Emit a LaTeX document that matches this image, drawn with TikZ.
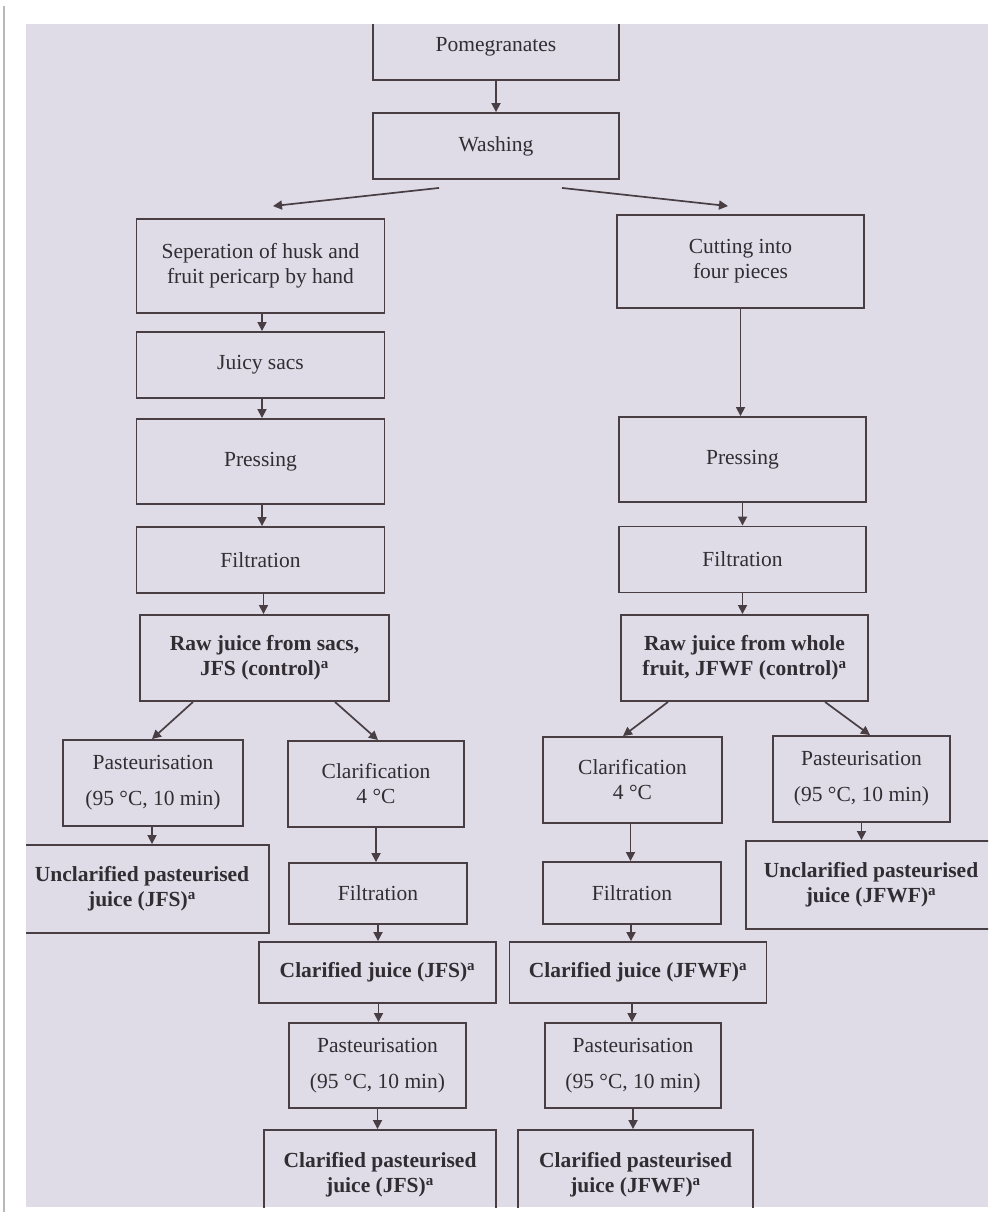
\documentclass[tikz,border=0pt]{standalone}
\usepackage{fontspec}
\setmainfont{Liberation Serif}
\usetikzlibrary{arrows.meta}
\definecolor{panel}{RGB}{223,220,231}
\definecolor{ink}{RGB}{72,62,68}
\definecolor{txt}{RGB}{50,45,50}
\tikzset{
  box/.style={draw=ink, line width=1.9pt, rectangle, align=center, text=txt,
    font=\fontsize{21.5}{25}\selectfont, inner sep=2pt},
  bbox/.style={box, font=\fontsize{21.5}{25}\selectfont\bfseries},
  arr/.style={draw=ink, line width=1.7pt, -{Triangle[length=9pt,width=9pt]}},
}
\newcommand{\supa}{\textsuperscript{a}}
\begin{document}
\begin{tikzpicture}[x=1pt,y=-1pt]
\useasboundingbox (0,0) rectangle (996,1218);
\fill[white] (0,0) rectangle (996,1218);
\draw[gray!55, line width=1.5pt] (4,6) -- (4,1212);
\fill[panel] (26,24) rectangle (988,1207);
\begin{scope}
\clip (26,24) rectangle (988,1207);
% top
\node[box, minimum width=246pt, minimum height=66pt] (pom) at (496,47) {Pomegranates};
\node[box, minimum width=246pt, minimum height=66pt] (wash) at (496,146) {Washing};
% left column
\node[box, minimum width=248pt, minimum height=94pt] (sep) at (260.5,266) {Seperation of husk and\\fruit pericarp by hand};
\node[box, minimum width=248pt, minimum height=66pt] (juicy) at (260.5,365) {Juicy sacs};
\node[box, minimum width=248pt, minimum height=85pt] (pressL) at (260.5,461.5) {Pressing};
\node[box, minimum width=248pt, minimum height=66pt] (filtL) at (260.5,560) {Filtration};
\node[bbox, minimum width=249pt, minimum height=86pt] (rawL) at (264.5,658) {Raw juice from sacs,\\JFS (control)\supa};
% right column
\node[box, minimum width=247pt, minimum height=93pt] (cut) at (740.5,261.5) {Cutting into\\four pieces};
\node[box, minimum width=247pt, minimum height=85pt] (pressR) at (742.5,459.5) {Pressing};
\node[box, minimum width=247pt, minimum height=66pt] (filtR) at (742.5,559.5) {Filtration};
\node[bbox, minimum width=247pt, minimum height=86pt] (rawR) at (744.5,658) {Raw juice from whole\\fruit, JFWF (control)\supa};
% JFS branches
\node[box, minimum width=180pt, minimum height=86pt] (pastL) at (153,783) {Pasteurisation\\[11pt](95 °C, 10 min)};
\node[bbox, minimum width=254pt, minimum height=88pt] (unclL) at (142,889) {Unclarified pasteurised\\juice (JFS)\supa};
\node[box, minimum width=176pt, minimum height=86pt] (clarL) at (376,784) {Clarification\\4 °C};
\node[box, minimum width=178pt, minimum height=61pt] (filtLM) at (378,893.5) {Filtration};
\node[bbox, minimum width=237pt, minimum height=61pt] (clarJFS) at (377.5,972.5) {Clarified juice (JFS)\supa};
\node[box, minimum width=177pt, minimum height=85pt] (pastLB) at (377.5,1065.5) {Pasteurisation\\[11pt](95 °C, 10 min)};
\node[bbox, minimum width=232pt, minimum height=90pt] (cpJFS) at (380,1175) {Clarified pasteurised\\juice (JFS)\supa};
% JFWF branches
\node[box, minimum width=179pt, minimum height=86pt] (clarR) at (632.5,780) {Clarification\\4 °C};
\node[box, minimum width=177pt, minimum height=86pt] (pastR) at (861.5,779) {Pasteurisation\\[11pt](95 °C, 10 min)};
\node[bbox, minimum width=250pt, minimum height=88pt] (unclR) at (871,885) {Unclarified pasteurised\\juice (JFWF)\supa};
\node[box, minimum width=178pt, minimum height=62pt] (filtRM) at (632,893) {Filtration};
\node[bbox, minimum width=257pt, minimum height=61pt] (clarJFWF) at (638,972.5) {Clarified juice (JFWF)\supa};
\node[box, minimum width=176pt, minimum height=85pt] (pastRB) at (633,1065.5) {Pasteurisation\\[11pt](95 °C, 10 min)};
\node[bbox, minimum width=235pt, minimum height=90pt] (cpJFWF) at (635.5,1175) {Clarified pasteurised\\juice (JFWF)\supa};
% connectors
\draw[arr] (pom.south) -- (pom.south |- wash.north);
\coordinate (wl) at ([shift={(-57,8)}]wash.south);
\coordinate (wr) at ([shift={(66,8)}]wash.south);
\draw[arr] (wl) -- ([shift={(12.5,-12)}]sep.north);
\draw[arr] (wr) -- ([shift={(-12.5,-8)}]cut.north);
\draw[arr] ([xshift=1.5pt]sep.south) -- ([xshift=1.5pt]sep.south |- juicy.north);
\draw[arr] ([xshift=1.5pt]juicy.south) -- ([xshift=1.5pt]juicy.south |- pressL.north);
\draw[arr] ([xshift=1.5pt]pressL.south) -- ([xshift=1.5pt]pressL.south |- filtL.north);
\draw[arr] ([xshift=3pt]filtL.south) -- ([xshift=3pt]filtL.south |- rawL.north);
\draw[arr] (cut.south) -- (cut.south |- pressR.north);
\draw[arr] (pressR.south) -- (pressR.south |- filtR.north);
\draw[arr] (filtR.south) -- (filtR.south |- rawR.north);
\draw[arr] ([xshift=-71.5pt]rawL.south) -- ([xshift=-1pt]pastL.north);
\draw[arr] ([xshift=70.5pt]rawL.south) -- ([xshift=2pt]clarL.north);
\draw[arr] ([xshift=-76.5pt]rawR.south) -- ([xshift=-9.5pt]clarR.north);
\draw[arr] ([xshift=80.5pt]rawR.south) -- ([xshift=8.5pt]pastR.north);
\draw[arr] ([xshift=-1pt]pastL.south) -- ([xshift=-1pt]pastL.south |- unclL.north);
\draw[arr] (clarL.south) -- (clarL.south |- filtLM.north);
\draw[arr] (filtLM.south) -- (filtLM.south |- clarJFS.north);
\draw[arr] ([xshift=1pt]clarJFS.south) -- ([xshift=1pt]clarJFS.south |- pastLB.north);
\draw[arr] (pastLB.south) -- (pastLB.south |- cpJFS.north);
\draw[arr] ([xshift=-2pt]clarR.south) -- ([xshift=-2pt]clarR.south |- filtRM.north);
\draw[arr] ([xshift=-1pt]filtRM.south) -- ([xshift=-1pt]filtRM.south |- clarJFWF.north);
\draw[arr] ([xshift=-6pt]clarJFWF.south) -- ([xshift=-6pt]clarJFWF.south |- pastRB.north);
\draw[arr] (pastRB.south) -- (pastRB.south |- cpJFWF.north);
\draw[arr] (pastR.south) -- (pastR.south |- unclR.north);
\end{scope}
\end{tikzpicture}
\end{document}
